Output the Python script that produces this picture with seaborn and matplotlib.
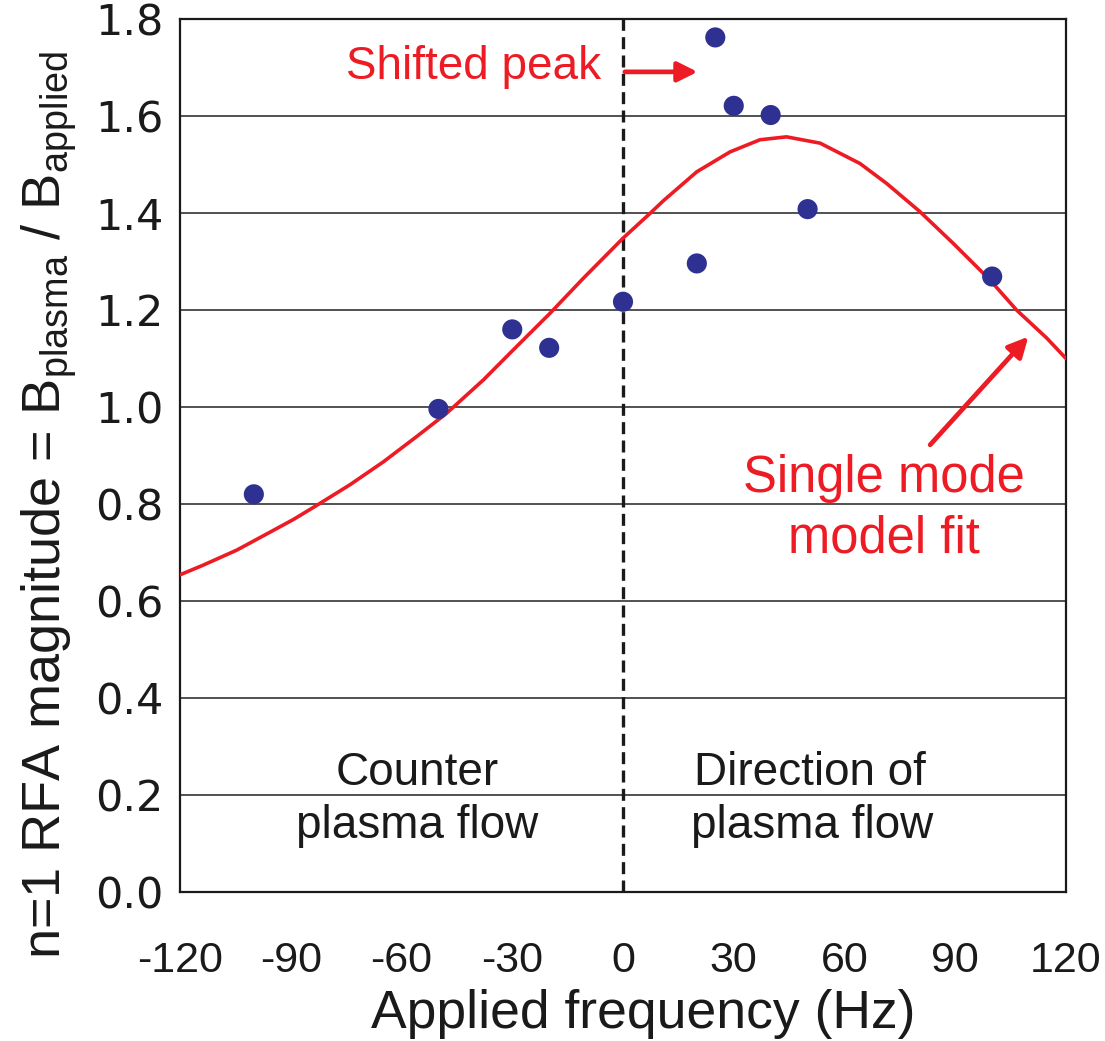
import matplotlib
matplotlib.use("Agg")
import matplotlib.pyplot as plt
import seaborn as sns
import pandas as pd

# Measured RFA response vs applied frequency
freq_hz = [-100, -50, -30, -20, 0, 20, 25, 30, 40, 50, 100]
rfa_mag = [0.820, 0.996, 1.160, 1.122, 1.217, 1.296, 1.762, 1.621, 1.602, 1.408, 1.269]

# Single mode model fit, sampled along frequency
fit_hz = [-120, -113.7, -104.6, -95.6, -89.3, -83.0, -73.9, -64.9, -55.9, -47.8,
          -37.8, -29.7, -19.8, -10.8, 0, 7.3, 10.9, 20.0, 29.0, 37.1, 44.3,
          53.4, 64.2, 71.4, 80.4, 89.5, 99.4, 106.6, 114.8, 120]
fit_mag = [0.654, 0.674, 0.705, 0.742, 0.768, 0.797, 0.840, 0.887, 0.939, 0.987,
           1.056, 1.118, 1.193, 1.265, 1.348, 1.399, 1.425, 1.485, 1.526, 1.551,
           1.557, 1.544, 1.502, 1.461, 1.403, 1.337, 1.262, 1.200, 1.142, 1.100]

x_ticks = [-120, -90, -60, -30, 0, 30, 60, 90, 120]
x_tick_labels = ["-120", "-90", "-60", "-30", "0", "30", "60", "90", "120"]
y_ticks = [0.0, 0.2, 0.4, 0.6, 0.8, 1.0, 1.2, 1.4, 1.6, 1.8]
y_tick_labels = ["0.0", "0.2", "0.4", "0.6", "0.8", "1.0", "1.2", "1.4", "1.6", "1.8"]

RED = "#ED1C24"
NAVY = "#2E3192"
INK = "#1a1a1a"

sns.set_style("white")
plt.rcParams["font.family"] = ["Liberation Sans", "DejaVu Sans"]
plt.rcParams["axes.unicode_minus"] = False
plt.rcParams["mathtext.fontset"] = "custom"
plt.rcParams["mathtext.rm"] = "Liberation Sans"

fig = plt.figure(figsize=(11.05, 10.41), dpi=100)
ax = fig.add_axes([180 / 1105, 1 - 892 / 1041, 886 / 1105, 873 / 1041])

data = pd.DataFrame({"freq": freq_hz, "mag": rfa_mag})
fit = pd.DataFrame({"freq": fit_hz, "mag": fit_mag})

# horizontal grid
for yv in y_ticks[1:-1]:
    ax.axhline(yv, color="#222222", lw=1.1, zorder=1)

# zero-frequency divider
ax.axvline(0, color=INK, lw=2.4, ls=(0, (3.6, 1.9)), zorder=2)

sns.lineplot(data=fit, x="freq", y="mag", ax=ax, color=RED, lw=2.6,
             sort=False, zorder=3)
sns.scatterplot(data=data, x="freq", y="mag", ax=ax, color=NAVY, s=210,
                edgecolor="none", zorder=4)

ax.set_xlim(-120, 120)
ax.set_ylim(0, 1.8)
ax.set_xticks(x_ticks)
ax.set_xticklabels(x_tick_labels, fontsize=31)
ax.set_yticks(y_ticks)
ax.set_yticklabels(y_tick_labels, fontfamily=["DejaVu Sans"], fontsize=31)
ax.tick_params(axis="x", direction="in", length=20, width=1.2, pad=35,
               colors=INK, labelcolor=INK)
ax.tick_params(axis="y", length=0, pad=12, labelcolor=INK)
for sp in ax.spines.values():
    sp.set_visible(True)
    sp.set_color(INK)
    sp.set_linewidth(1.6)

ax.set_xlabel("Applied frequency (Hz)", fontsize=38.5, color=INK)
ax.xaxis.set_label_coords(0.5226, -0.111)
ax.xaxis.label.set_va("top")
ax.set_ylabel("")
fig.text(50 / 1105, 1 - 505 / 1041,
         r"n=1 RFA magnitude = B$_\mathregular{plasma}$ / B$_\mathregular{applied}$",
         rotation=90, ha="center", va="center", fontsize=39, color=INK)

# region labels
txt_kw = dict(ha="center", va="baseline", fontsize=33, color=INK)
ax.text(-55.8, 0.22, "Counter", **txt_kw)
ax.text(-55.8, 0.111, "plasma flow", **txt_kw)
ax.text(50.6, 0.22, "Direction of", **txt_kw)
ax.text(51.2, 0.111, "plasma flow", **txt_kw)

# annotations
ax.text(-40.5, 1.676, "Shifted peak", ha="center", va="baseline",
        fontsize=33, color=RED)
ax.text(70.6, 0.825, "Single mode", ha="center", va="baseline",
        fontsize=36.5, color=RED)
ax.text(70.6, 0.701, "model fit", ha="center", va="baseline",
        fontsize=36.5, color=RED)

arrow = dict(arrowstyle="-|>,head_length=0.6,head_width=0.3", color=RED,
             lw=3.4, shrinkA=0, shrinkB=0, mutation_scale=20)
ax.annotate("", xy=(20.2, 1.691), xytext=(0.5, 1.691), arrowprops=arrow,
            zorder=5)
ax.annotate("", xy=(109.8, 1.145), xytext=(83.2, 0.922), arrowprops=arrow,
            zorder=5)

fig.savefig("out.png", dpi=100)
